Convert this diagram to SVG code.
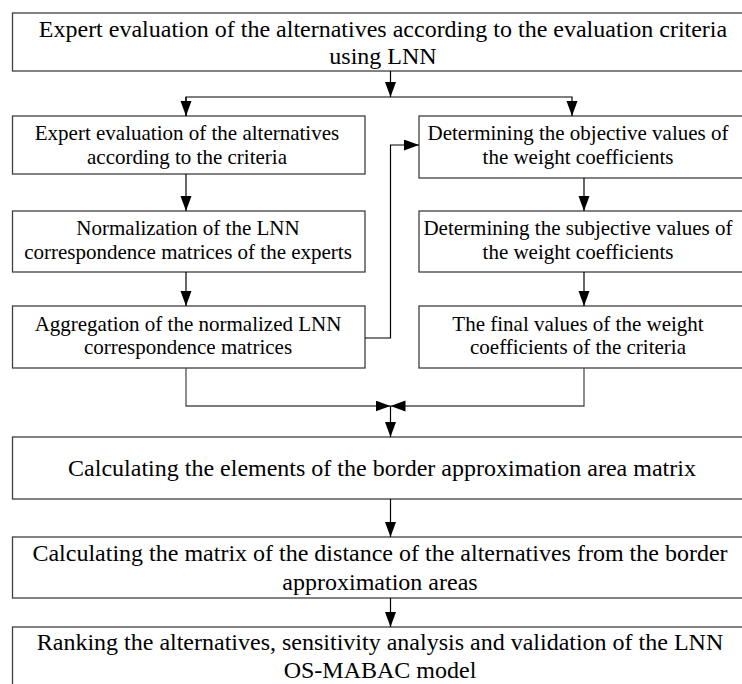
<svg xmlns="http://www.w3.org/2000/svg" width="742" height="684" viewBox="0 0 742 684">
<style>
.box{fill:#fff;stroke:#404040;stroke-width:1.3}
.big{font-family:"Liberation Serif","Times New Roman",serif;font-size:24px;fill:#000;text-anchor:middle}
.sm{font-family:"Liberation Serif","Times New Roman",serif;font-size:21px;fill:#000;text-anchor:middle}
.ln{fill:none;stroke:#000;stroke-width:1.2}
.gl{fill:none;stroke:#505050;stroke-width:1.3}
</style>
<defs>
<marker id="ah" markerUnits="userSpaceOnUse" markerWidth="16" markerHeight="12" refX="15" refY="5.5" orient="auto">
<path d="M0,0 L15,5.5 L0,11 Z" fill="#000"/>
</marker>
</defs>
<rect width="742" height="684" fill="#fff"/>
<g id="top">
<rect class="box" x="12.5" y="13" width="740" height="58"/>
<text class="big" x="383" y="37">Expert evaluation of the alternatives according to the evaluation criteria</text>
<text class="big" x="383" y="64">using LNN</text>
</g>
<g id="left1">
<rect class="box" x="12.5" y="116" width="352.5" height="58"/>
<text class="sm" x="187" y="140">Expert evaluation of the alternatives</text>
<text class="sm" x="187" y="164">according to the criteria</text>
</g>
<g id="left2">
<rect class="box" x="12.5" y="211" width="352.5" height="61"/>
<text class="sm" x="188" y="235">Normalization of the LNN</text>
<text class="sm" x="188" y="259">correspondence matrices of the experts</text>
</g>
<g id="left3">
<rect class="box" x="12.5" y="306" width="352.5" height="62"/>
<text class="sm" x="188" y="331">Aggregation of the normalized LNN</text>
<text class="sm" x="188" y="354">correspondence matrices</text>
</g>
<g id="right1">
<rect class="box" x="419" y="116" width="330" height="62"/>
<text class="sm" x="578" y="140">Determining the objective values of</text>
<text class="sm" x="578" y="164">the weight coefficients</text>
</g>
<g id="right2">
<rect class="box" x="419" y="211" width="330" height="61"/>
<text class="sm" x="578" y="235">Determining the subjective values of</text>
<text class="sm" x="578" y="259">the weight coefficients</text>
</g>
<g id="right3">
<rect class="box" x="419" y="306" width="330" height="62"/>
<text class="sm" x="578" y="331">The final values of the weight</text>
<text class="sm" x="578" y="354">coefficients of the criteria</text>
</g>
<g id="border">
<rect class="box" x="12.5" y="437" width="740" height="62"/>
<text class="big" x="382" y="476">Calculating the elements of the border approximation area matrix</text>
</g>
<g id="distance">
<rect class="box" x="12.5" y="537" width="740" height="61"/>
<text class="big" x="380" y="561">Calculating the matrix of the distance of the alternatives from the border</text>
<text class="big" x="380" y="590">approximation areas</text>
</g>
<g id="ranking">
<rect class="box" x="12.5" y="627" width="740" height="64"/>
<text class="big" x="380" y="650">Ranking the alternatives, sensitivity analysis and validation of the LNN</text>
<text class="big" x="380" y="678">OS-MABAC model</text>
</g>
<g id="connectors">
<line class="ln" x1="390.5" y1="71" x2="390.5" y2="97" marker-end="url(#ah)"/>
<polyline class="ln" points="186,116 186,97 572,97 572,116" marker-end="url(#ah)"/>
<line class="ln" x1="186" y1="97" x2="186" y2="116" marker-end="url(#ah)"/>
<line class="ln" x1="186" y1="174" x2="186" y2="211" marker-end="url(#ah)"/>
<line class="ln" x1="186" y1="272" x2="186" y2="306" marker-end="url(#ah)"/>
<line class="ln" x1="584" y1="178" x2="584" y2="211" marker-end="url(#ah)"/>
<line class="ln" x1="584" y1="272" x2="584" y2="306" marker-end="url(#ah)"/>
<polyline class="ln" points="365,338 390.5,338 390.5,145 419,145" marker-end="url(#ah)"/>
<polyline class="gl" points="186,368 186,406 390.5,406" marker-end="url(#ah)"/>
<polyline class="gl" points="584,368 584,406 390.5,406" marker-end="url(#ah)"/>
<line class="ln" x1="390.5" y1="406" x2="390.5" y2="437" marker-end="url(#ah)"/>
<line class="ln" x1="390.5" y1="499" x2="390.5" y2="537" marker-end="url(#ah)"/>
<line class="ln" x1="390.5" y1="598" x2="390.5" y2="627" marker-end="url(#ah)"/>
</g>
</svg>
